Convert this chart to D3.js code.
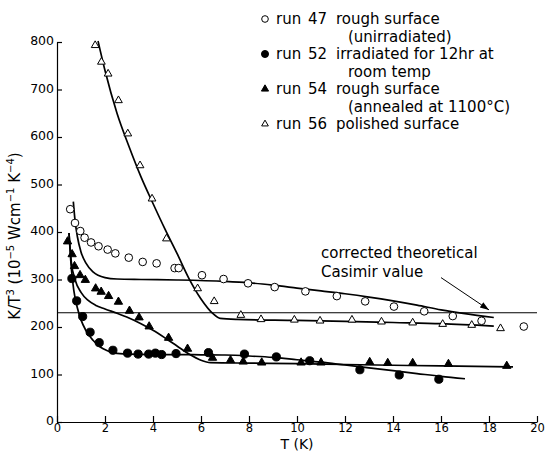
<!DOCTYPE html>
<html>
<head>
<meta charset="utf-8">
<script src="https://cdn.jsdelivr.net/npm/d3@7"></script>
<style>
  body { margin: 0; background: #fff; }
  svg { display: block; font-family: "DejaVu Sans", sans-serif; }
</style>
</head>
<body>
<svg id="chart" width="545" height="453"></svg>
<script>
// measured points, [T (K), K/T^3]
var run47 = [[0.55,448],[0.75,419],[0.97,402],[1.15,388],[1.42,378],[1.73,370],[2.11,363],[2.43,355],[2.99,346],[3.57,337],[4.15,334],[4.9,324],[5.07,324],[6.04,309],[6.94,301],[7.96,292],[9.07,284],[10.35,275],[11.66,265],[12.84,254],[14.04,243],[15.3,233],[16.49,223],[17.69,213],[19.45,201]];
var run52 = [[0.62,302],[0.82,255],[1.07,222],[1.38,189],[1.76,167],[2.33,151],[2.94,145],[3.38,143],[3.82,143],[4.1,145],[4.36,142],[4.96,144],[6.31,146],[7.81,143],[9.14,137],[10.53,129],[12.62,110],[14.26,99],[15.91,90]];
var run54 = [[0.44,380],[0.63,353],[0.73,328],[0.96,309],[1.18,299],[1.61,281],[1.84,274],[2.15,265],[2.56,253],[3.02,234],[3.42,220],[3.84,201],[4.65,177],[5.44,154],[6.48,135],[7.23,130],[7.76,127],[8.53,125],[10.17,125],[11.0,125],[13.03,126],[13.78,124],[14.82,124],[16.31,122],[18.74,118]];
var run56 = [[1.59,793],[1.85,758],[2.13,733],[2.56,677],[2.95,607],[3.46,540],[3.96,470],[4.56,386],[5.86,281],[6.55,254],[7.66,225],[8.5,216],[9.89,215],[10.96,213],[12.29,215],[13.52,211],[14.82,209],[16.07,206],[17.28,204],[18.48,197]];

// drawn curves
var fit47 = [[0.68,464],[0.75,425],[0.85,390],[1.0,358],[1.2,335],[1.5,316],[2.0,304],[2.5,301],[3.5,300],[5,299],[7,296],[8,293],[9,288],[10,282],[11,276],[12,270],[13,263],[14,255],[15,246],[16,236],[17,228],[18.2,220]];
var fit52 = [[0.5,398],[0.6,322],[0.7,277],[0.85,240],[1.0,215],[1.2,193],[1.5,172],[1.8,158],[2.1,150],[2.4,145],[3,143],[4,142],[5,142],[6,141.5],[7,141],[8,139],[9,136],[10,131],[11,126],[12,120],[13,114],[14,108],[15,102],[16,96],[17,91]];
var fit54 = [[0.5,398],[0.6,335],[0.75,300],[1.0,273],[1.3,256],[1.6,246],[2.0,238],[2.5,229],[3.0,219],[3.5,207],[4.0,193],[4.5,177],[5.0,160],[5.5,143],[6.0,130],[6.4,125],[8,124],[10,123],[12,121],[14,119.5],[16,118],[19,116]];
var fit56 = [[1.71,802],[2.0,740],[2.5,650],[3.0,580],[3.5,516],[4.0,460],[4.5,406],[5.0,355],[5.5,302],[6.0,259],[6.5,228],[6.8,218],[7.5,216],[10,214],[12,212],[14,209.5],[16,207],[18.2,202]];

var casimir = 230;
var xTicks = [0,2,4,6,8,10,12,14,16,18,20];
var yTicks = [0,100,200,300,400,500,600,700,800];
var legendRuns = ["47","52","54","56"];
var legendLabels = [["rough surface","(unirradiated)"],["irradiated for 12hr at","room temp"],["rough surface","(annealed at 1100°C)"],["polished surface"]];

var svg = d3.select("#chart");

var x = d3.scaleLinear().domain([0,20]).range([57,537]);
var y = d3.scaleLinear().domain([0,800]).range([422,42]);

// axes, ticks point inward
svg.append("g")
	.attr("transform","translate(0,"+y(0)+")")
	.call(d3.axisBottom(x).tickValues(xTicks).tickSizeInner(-6).tickSizeOuter(0).tickPadding(2))
	.call(g=>g.selectAll("text").attr("font-size",11.5).attr("font-family","DejaVu Sans"));
svg.append("g")
	.attr("transform","translate("+x(0)+",0)")
	.call(d3.axisLeft(y).tickValues(yTicks).tickSizeInner(-5).tickSizeOuter(0).tickPadding(3))
	.call(g=>g.selectAll("text").attr("font-size",12.5).attr("font-family","DejaVu Sans").attr("dy","0.2em"));
svg.selectAll(".domain, .tick line").attr("stroke","#000").attr("stroke-width",1.2);

// axis titles
svg.append("text")
	.attr("x",297).attr("y",449)
	.attr("text-anchor","middle")
	.attr("font-size",14)
	.text("T (K)");

var yl = svg.append("text")
	.attr("transform","translate(20,236) rotate(-90)")
	.attr("text-anchor","middle")
	.attr("font-size",15);
[["K/T",0],["3",1],[" (10",0],["−5",1],[" Wcm",0],["−1",1],[" K",0],["−4",1],[")",0]].forEach(p=>{
	var t = yl.append("tspan").text(p[0]);
	if(p[1]) t.attr("font-size",10).attr("dy","-0.6em");
	else t.attr("dy", p[0]=="K/T" ? 0 : "0.4em");
});

// Casimir value
svg.append("line")
	.attr("x1",x(0)).attr("x2",x(20))
	.attr("y1",y(casimir)).attr("y2",y(casimir))
	.attr("stroke","#000").attr("stroke-width",1);

svg.append("defs").append("marker")
	.attr("id","arrow").attr("viewBox","0 0 10 10")
	.attr("refX",10).attr("refY",5)
	.attr("markerWidth",9).attr("markerHeight",9)
	.attr("markerUnits","userSpaceOnUse")
	.attr("orient","auto")
	.append("path").attr("d","M0,1.5L10,5L0,8.5Z").attr("fill","#000");
svg.append("line")
	.attr("x1",x(16.0)).attr("y1",y(304))
	.attr("x2",x(18.0)).attr("y2",y(236))
	.attr("stroke","#000").attr("stroke-width",1)
	.attr("marker-end","url(#arrow)");
svg.append("text").attr("x",321).attr("y",258).attr("font-size",15).text("corrected theoretical");
svg.append("text").attr("x",321).attr("y",277).attr("font-size",15).text("Casimir value");

// fitted curves
var line = d3.line().x(d=>x(d[0])).y(d=>y(d[1])).curve(d3.curveMonotoneX);
[fit47,fit52,fit54,fit56].forEach(f=>{
	svg.append("path").datum(f)
		.attr("d",line)
		.attr("fill","none").attr("stroke","#000").attr("stroke-width",1.7);
});

// point markers
var markers = [
	{sym:d3.symbolCircle, size:46, fill:"#fff"},
	{sym:d3.symbolCircle, size:52, fill:"#000"},
	{sym:d3.symbolTriangle, size:30, fill:"#000"},
	{sym:d3.symbolTriangle, size:26, fill:"#fff"}
];
[run47,run52,run54,run56].forEach((run,i)=>{
	var m = markers[i];
	svg.append("g").selectAll("path")
		.data(run)
		.join("path")
		.attr("transform",d=>"translate("+x(d[0])+","+y(d[1])+")")
		.attr("d",d3.symbol().type(m.sym).size(m.size))
		.attr("fill",m.fill).attr("stroke","#000").attr("stroke-width",1);
});

// legend
var rowY = [24,59,94,129];
legendRuns.forEach((r,i)=>{
	var m = markers[i];
	svg.append("path")
		.attr("transform","translate(265,"+(rowY[i]-5)+")")
		.attr("d",d3.symbol().type(m.sym).size(m.size*0.75))
		.attr("fill",m.fill).attr("stroke","#000").attr("stroke-width",1);
	svg.append("text").attr("x",276).attr("y",rowY[i]).attr("font-size",15).text("run");
	svg.append("text").attr("x",308).attr("y",rowY[i]).attr("font-size",15).text(r);
	legendLabels[i].forEach((l,j)=>{
		svg.append("text")
			.attr("x", j==0 ? 336 : 348)
			.attr("y", rowY[i]+j*17.5)
			.attr("font-size",15)
			.text(l);
	});
});
</script>
</body>
</html>
